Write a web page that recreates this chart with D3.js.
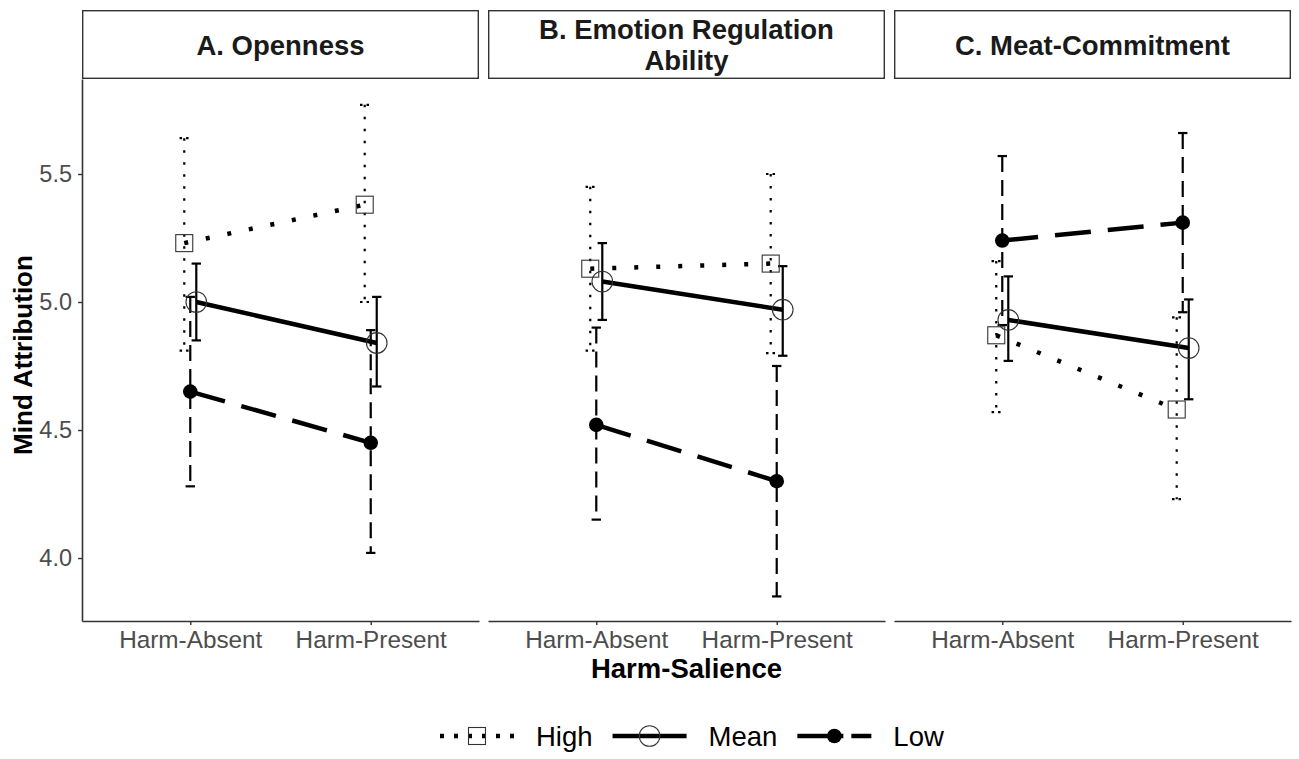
<!DOCTYPE html>
<html>
<head>
<meta charset="utf-8">
<script src="https://cdn.jsdelivr.net/npm/d3@7"></script>
<style>
  html, body { margin: 0; padding: 0; background: #fff; }
  svg { display: block; font-family: "Liberation Sans", Arial, Helvetica, sans-serif; }
</style>
</head>
<body>
<svg id="chart" width="1299" height="759"></svg>
<script>
// ---- Data ----
const panels = ["A. Openness", "B. Emotion Regulation Ability", "C. Meat-Commitment"];
const panelLines = [["A. Openness"], ["B. Emotion Regulation", "Ability"], ["C. Meat-Commitment"]];
const conditions = ["Harm-Absent", "Harm-Present"];
const levels = ["High", "Mean", "Low"];
const yTicks = [4.0, 4.5, 5.0, 5.5];

// estimates per panel: [Harm-Absent, Harm-Present]
const highEst  = [[5.23, 5.38], [5.13, 5.15], [4.87, 4.58]];
const highLow  = [[4.81, 5.00], [4.81, 4.80], [4.57, 4.23]];
const highHigh = [[5.64, 5.77], [5.45, 5.50], [5.16, 4.94]];

const meanEst  = [[5.00, 4.84], [5.08, 4.97], [4.93, 4.82]];
const meanLow  = [[4.85, 4.67], [4.93, 4.79], [4.77, 4.62]];
const meanHigh = [[5.15, 5.02], [5.23, 5.14], [5.10, 5.01]];

const lowEst   = [[4.65, 4.45], [4.52, 4.30], [5.24, 5.31]];
const lowLow   = [[4.28, 4.02], [4.15, 3.85], [4.91, 4.96]];
const lowHigh  = [[5.02, 4.89], [4.90, 4.75], [5.57, 5.66]];

const series = {
  High: { est: highEst, lo: highLow, hi: highHigh },
  Mean: { est: meanEst, lo: meanLow, hi: meanHigh },
  Low:  { est: lowEst,  lo: lowLow,  hi: lowHigh }
};

// ---- Styles ----
const dodge = { High: -1/30, Low: 0, Mean: 1/30 };
const lineDash = { High: "4,18", Mean: null, Low: "36,17" };
const barDash  = { High: "2.5,9.5", Mean: null, Low: "16,8" };
const capHalf = 0.026;

const svg = d3.select("#chart");
const panelLeft = [82, 488, 894];
const panelW = 397;
const plotTop = 79, plotBottom = 621;
const stripTop = 10;

const y = d3.scaleLinear().domain([3.754, 5.871]).range([plotBottom, plotTop]);

function drawMarker(g, lv, px, py) {
  if (lv === "High") {
    g.append("rect").attr("x", px - 8.5).attr("y", py - 8.5).attr("width", 17).attr("height", 17)
      .attr("fill", "none").attr("stroke", "#333").attr("stroke-width", 1.1);
  } else if (lv === "Mean") {
    g.append("circle").attr("cx", px).attr("cy", py).attr("r", 10.3)
      .attr("fill", "none").attr("stroke", "#333").attr("stroke-width", 1.1);
  } else {
    g.append("circle").attr("cx", px).attr("cy", py).attr("r", 7.3).attr("fill", "#000");
  }
}

panels.forEach((p, pi) => {
  const x0 = panelLeft[pi];
  const x = d3.scaleLinear().domain([-0.6, 1.6]).range([x0, x0 + panelW]);
  const g = svg.append("g");

  // strip
  g.append("rect").attr("x", x0 + 0.7).attr("y", stripTop + 0.7)
    .attr("width", panelW - 1.4).attr("height", plotTop - stripTop - 1.4)
    .attr("fill", "#fff").attr("stroke", "#333").attr("stroke-width", 1.4);
  const lines = panelLines[pi];
  const cy = (stripTop + plotTop) / 2;
  lines.forEach((t, li) => {
    g.append("text").attr("x", x0 + panelW / 2)
      .attr("y", cy + 10 + (li - (lines.length - 1) / 2) * 31)
      .attr("text-anchor", "middle").attr("font-size", 27.5).attr("font-weight", "bold")
      .attr("fill", "#1a1a1a").text(t);
  });

  // x axis
  const xa = g.append("g").attr("transform", `translate(0,${plotBottom})`)
    .call(d3.axisBottom(x).tickValues([0, 1]).tickFormat((d) => conditions[d]).tickSize(4).tickSizeOuter(0));
  xa.select(".domain").attr("stroke", "#333").attr("stroke-width", 1.6);
  xa.selectAll(".tick line").attr("stroke", "#333").attr("stroke-width", 1.4);
  xa.selectAll(".tick text").attr("font-size", 24.3).attr("fill", "#4d4d4d")
    .attr("font-family", "Liberation Sans, Arial, sans-serif").attr("dy", "0.71em").attr("y", 10);

  if (pi === 0) {
    const ya = g.append("g").attr("transform", `translate(${x0},0)`)
      .call(d3.axisLeft(y).tickValues(yTicks).tickFormat(d3.format(".1f")).tickSize(4).tickSizeOuter(0));
    ya.select(".domain").attr("stroke", "#333").attr("stroke-width", 1.6);
    ya.selectAll(".tick line").attr("stroke", "#333").attr("stroke-width", 1.4);
    ya.selectAll(".tick text").attr("font-size", 23.5).attr("fill", "#4d4d4d")
      .attr("font-family", "Liberation Sans, Arial, sans-serif").attr("x", -10);
  }

  const order = ["High", "Low", "Mean"];
  // error bars
  order.forEach((lv) => {
    const s = series[lv];
    conditions.forEach((c, ci) => {
      const xc = ci + dodge[lv];
      const lo = s.lo[pi][ci], hi = s.hi[pi][ci];
      const v = g.append("line").attr("x1", x(xc)).attr("x2", x(xc))
        .attr("y1", y(hi)).attr("y2", y(lo)).attr("stroke", "#000").attr("stroke-width", 2.2);
      if (barDash[lv]) v.attr("stroke-dasharray", barDash[lv]);
      [lo, hi].forEach((val) => {
        const h = g.append("line").attr("x1", x(xc - capHalf)).attr("x2", x(xc + capHalf))
          .attr("y1", y(val)).attr("y2", y(val)).attr("stroke", "#000").attr("stroke-width", 2.2);
        if (lv === "High") h.attr("stroke-dasharray", "2.5,4");
      });
    });
  });

  // connecting lines
  order.forEach((lv) => {
    const s = series[lv];
    const pts = conditions.map((c, ci) => [ci + dodge[lv], s.est[pi][ci]]);
    const path = g.append("path")
      .attr("d", d3.line().x((d) => x(d[0])).y((d) => y(d[1]))(pts))
      .attr("fill", "none").attr("stroke", "#000").attr("stroke-width", 4.5);
    if (lineDash[lv]) path.attr("stroke-dasharray", lineDash[lv]);
  });

  // points
  order.forEach((lv) => {
    const s = series[lv];
    conditions.forEach((c, ci) => {
      drawMarker(g, lv, x(ci + dodge[lv]), y(s.est[pi][ci]));
    });
  });
});

// axis titles
svg.append("text").attr("transform", `translate(32,355) rotate(-90)`)
  .attr("text-anchor", "middle").attr("font-size", 26).attr("font-weight", "bold").attr("fill", "#000")
  .text("Mind Attribution");
svg.append("text").attr("x", (82 + 894 + panelW) / 2).attr("y", 678)
  .attr("text-anchor", "middle").attr("font-size", 27.5).attr("font-weight", "bold").attr("fill", "#000")
  .text("Harm-Salience");

// legend
const legY = 736;
const keyW = 74;
let lx = 440;
levels.forEach((lv) => {
  const lg = svg.append("g");
  const l = lg.append("line").attr("x1", lx).attr("x2", lx + keyW).attr("y1", legY).attr("y2", legY)
    .attr("stroke", "#000").attr("stroke-width", 4.5);
  if (lv === "High") l.attr("stroke-dasharray", "4,10");
  if (lv === "Low") l.attr("stroke-dasharray", "46,8");
  drawMarker(lg, lv, lx + keyW / 2, legY);
  const t = lg.append("text").attr("x", lx + keyW + 22).attr("y", legY + 10)
    .attr("font-size", 27.5).attr("fill", "#000").text(lv);
  lx = lx + keyW + 22 + t.node().getComputedTextLength() + 20;
});
</script>
</body>
</html>
